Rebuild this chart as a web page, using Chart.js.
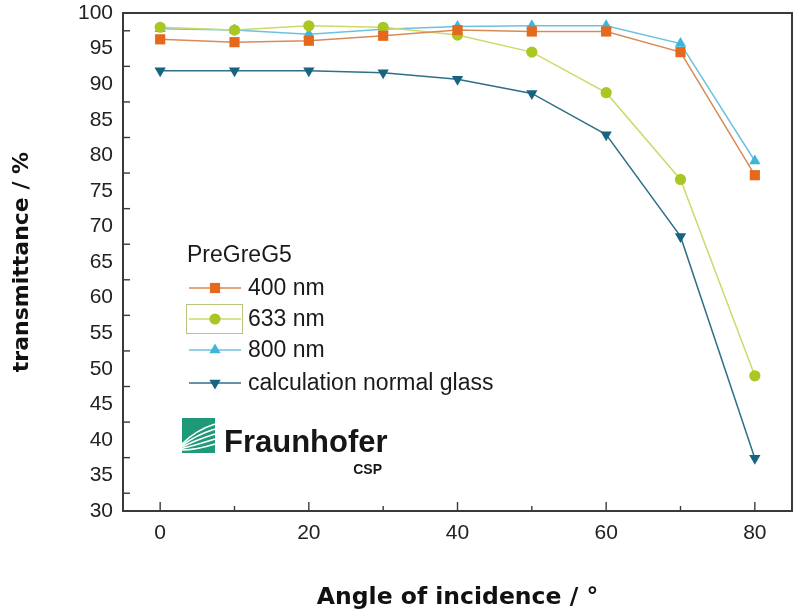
<!DOCTYPE html>
<html>
<head>
<meta charset="utf-8">
<script src="https://cdn.jsdelivr.net/npm/chart.js@4.4.1/dist/chart.umd.min.js"></script>
<style>
html, body { margin: 0; padding: 0; background: #fff; }
#wrap { width: 796px; height: 613px; }
</style>
</head>
<body>
<div id="wrap"><canvas id="myChart" width="796" height="613"></canvas></div>
<script>
// values
const angles = [0, 10, 20, 30, 40, 50, 60, 70, 80];
const t400 = [96.3, 95.9, 96.1, 96.8, 97.6, 97.4, 97.4, 94.5, 77.2];
const t633 = [98.0, 97.6, 98.2, 98.0, 96.9, 94.5, 88.8, 76.6, 49.0];
const t800 = [97.8, 97.6, 97.0, 97.7, 98.1, 98.2, 98.2, 95.7, 79.2];
const tGlass = [91.9, 91.9, 91.9, 91.6, 90.7, 88.7, 82.9, 68.6, 37.4];

const xTickLabels = [0, 20, 40, 60, 80];
const yTickLabels = [30, 35, 40, 45, 50, 55, 60, 65, 70, 75, 80, 85, 90, 95, 100];
const legendTitle = "PreGreG5";
const seriesNames = ["400 nm", "633 nm", "800 nm", "calculation normal glass"];

function toPoints(vals) {
    return angles.map((a, i) => ({ x: a, y: vals[i] }));
}

function makeSet(label, vals, lineColor, markColor, style, radius, rotation) {
    return {
        label: label,
        data: toPoints(vals),
        showLine: true,
        borderColor: lineColor,
        borderWidth: 1.5,
        pointStyle: style,
        pointRadius: radius,
        pointRotation: rotation || 0,
        pointBackgroundColor: markColor,
        pointBorderColor: markColor,
        pointBorderWidth: 0,
        tension: 0
    };
}

const sets = [
    makeSet(seriesNames[0], t400, "#d98a55", "#e5681c", "rect", 7.2),
    makeSet(seriesNames[1], t633, "#cfd86a", "#a9c722", "circle", 5.6),
    makeSet(seriesNames[2], t800, "#6cc1de", "#3fb5da", "triangle", 6.5),
    makeSet(seriesNames[3], tGlass, "#2f6f88", "#176381", "triangle", 6.5, 180)
];

function drawMarker(ctx, ds, x, y) {
    const r = ds.pointRadius;
    ctx.fillStyle = ds.pointBackgroundColor;
    ctx.beginPath();
    if (ds.pointStyle === "rect") {
        const s = r * Math.SQRT1_2;
        ctx.rect(x - s, y - s, 2 * s, 2 * s);
    } else if (ds.pointStyle === "circle") {
        ctx.arc(x, y, r, 0, Math.PI * 2);
    } else {
        const rot = (ds.pointRotation || 0) * Math.PI / 180;
        for (let k = 0; k < 3; k++) {
            const ang = rot + k * 2 * Math.PI / 3;
            const px = x + Math.sin(ang) * r;
            const py = y - Math.cos(ang) * r;
            if (k === 0) ctx.moveTo(px, py); else ctx.lineTo(px, py);
        }
        ctx.closePath();
    }
    ctx.fill();
}

function line(ctx, x1, y1, x2, y2) {
    ctx.beginPath();
    ctx.moveTo(x1, y1);
    ctx.lineTo(x2, y2);
    ctx.stroke();
}

// frame, inward ticks, legend and logo
const decorPlugin = {
    id: "decor",
    afterDraw(chart) {
        const { ctx, chartArea: a, scales } = chart;
        const xs = scales.x, ys = scales.y;
        ctx.save();

        ctx.strokeStyle = "#3a3a3a";
        ctx.lineWidth = 2;
        ctx.strokeRect(a.left, a.top, a.right - a.left, a.bottom - a.top);

        ctx.lineWidth = 1.4;
        for (let v = 0; v <= 80; v += 10) {
            const px = xs.getPixelForValue(v);
            line(ctx, px, a.bottom, px, a.bottom - (v % 20 === 0 ? 9 : 5));
        }
        for (let v = 32.5; v < 100; v += 5) {
            const py = ys.getPixelForValue(v);
            line(ctx, a.left, py, a.left + 7, py);
        }

        // legend
        const lx = a.left + 64;
        ctx.font = "23px 'Liberation Sans', Arial, sans-serif";
        ctx.fillStyle = "#1a1a1a";
        ctx.textBaseline = "middle";
        ctx.textAlign = "left";
        ctx.fillText(legendTitle, lx, 256);
        const rows = [288, 319, 350, 383];
        sets.forEach((ds, i) => {
            const yy = rows[i];
            if (i === 1) {
                ctx.strokeStyle = "#b9c27e";
                ctx.lineWidth = 1;
                ctx.strokeRect(lx - 0.5, yy - 14.5, 56, 29);
            }
            ctx.strokeStyle = ds.borderColor;
            ctx.lineWidth = 1.5;
            line(ctx, lx + 2, yy, lx + 54, yy);
            drawMarker(ctx, ds, lx + 28, yy);
            ctx.fillStyle = "#1a1a1a";
            ctx.fillText(ds.label, lx + 61, yy + 1);
        });

        // Fraunhofer logo
        const gx = a.left + 59, gy = 418;
        ctx.fillStyle = "#1f9a78";
        ctx.fillRect(gx, gy, 33, 35);
        ctx.strokeStyle = "#ffffff";
        ctx.lineWidth = 1.6;
        const ends = [8, 13, 18, 23, 28];
        ends.forEach((e, k) => {
            ctx.beginPath();
            ctx.moveTo(gx, gy + 26 + k * 1.5);
            ctx.quadraticCurveTo(gx + 14, gy + e + 4, gx + 33, gy + e - 2);
            ctx.stroke();
        });
        ctx.fillStyle = "#161616";
        ctx.font = "bold 31px 'Liberation Sans', Arial, sans-serif";
        ctx.textBaseline = "alphabetic";
        ctx.fillText("Fraunhofer", gx + 42, 452);
        ctx.font = "bold 14px 'Liberation Sans', Arial, sans-serif";
        ctx.textAlign = "right";
        ctx.fillText("CSP", gx + 200, 474);

        ctx.restore();
    }
};

const ctx = document.getElementById("myChart");

new Chart(ctx, {
    type: "scatter",
    data: { datasets: sets },
    options: {
        responsive: false,
        animation: false,
        layout: { autoPadding: false, padding: { left: 0, right: 4, top: 13, bottom: 0 } },
        plugins: {
            legend: { display: false },
            tooltip: { enabled: false }
        },
        scales: {
            x: {
                type: "linear",
                min: -5,
                max: 85,
                afterBuildTicks: (s) => { s.ticks = xTickLabels.map(v => ({ value: v })); },
                afterFit: (s) => { s.height = 102; s.paddingLeft = 0; s.paddingRight = 0; },
                grid: { display: false, drawTicks: false },
                border: { display: false },
                ticks: {
                    padding: 10,
                    color: "#222",
                    font: { family: "'Liberation Sans', Arial, sans-serif", size: 21 }
                },
                title: {
                    display: true,
                    text: "Angle of incidence / °",
                    color: "#111",
                    padding: { top: 0, bottom: 1 },
                    font: { family: "'DejaVu Sans', sans-serif", size: 23.5, weight: "bold" }
                }
            },
            y: {
                min: 30,
                max: 100,
                afterBuildTicks: (s) => { s.ticks = yTickLabels.map(v => ({ value: v })); },
                afterFit: (s) => { s.width = 123; s.paddingTop = 0; s.paddingBottom = 0; },
                grid: { display: false, drawTicks: false },
                border: { display: false },
                ticks: {
                    padding: 10,
                    color: "#222",
                    font: { family: "'Liberation Sans', Arial, sans-serif", size: 21 }
                },
                title: {
                    display: true,
                    text: "transmittance / %",
                    color: "#111",
                    padding: { top: 9, bottom: 0 },
                    font: { family: "'DejaVu Sans', sans-serif", size: 22, weight: "bold" }
                }
            }
        }
    },
    plugins: [decorPlugin]
});
</script>
</body>
</html>
